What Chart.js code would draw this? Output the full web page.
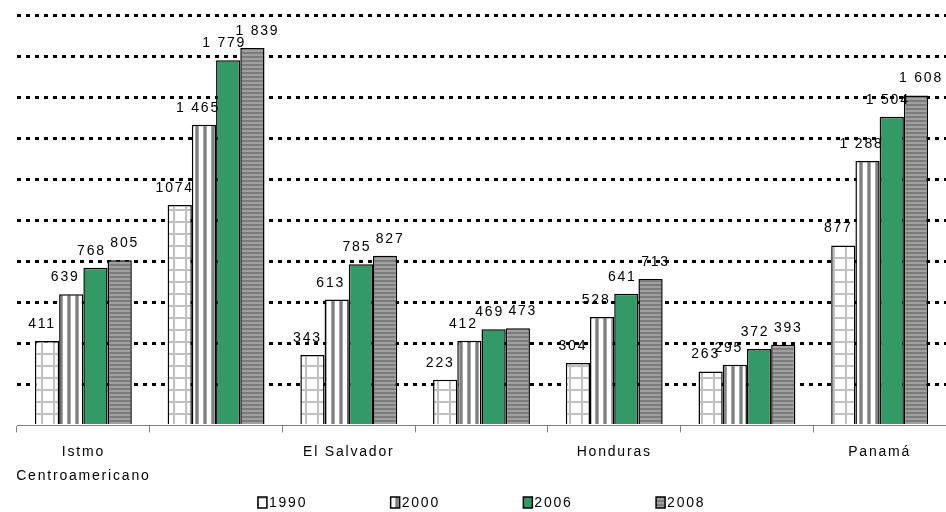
<!DOCTYPE html>
<html>
<head>
<meta charset="utf-8">
<script src="https://cdn.jsdelivr.net/npm/chart.js@4.4.1/dist/chart.umd.min.js"></script>
<style>
  html, body { margin: 0; padding: 0; background: #fff; }
  #wrap { width: 946px; height: 512px; }
</style>
</head>
<body>
<div id="wrap"><canvas id="grafico" width="946" height="512"></canvas></div>
<script>
// datos del grafico
var paises = ['Istmo Centroamericano', 'Costa Rica', 'El Salvador', 'Guatemala', 'Honduras', 'Nicaragua', 'Panamá'];
var anios = ['1990', '2000', '2006', '2008'];
var v1990 = [411, 1074, 343, 223, 304, 263, 877];
var v2000 = [639, 1465, 613, 412, 528, 295, 1288];
var v2006 = [768, 1779, 785, 469, 641, 372, 1504];
var v2008 = [805, 1839, 827, 473, 713, 393, 1608];
var yMax = 2000, yPaso = 200;

var FUENTE = '"Liberation Sans", Arial, sans-serif';

// tramas de las barras
function trama(w, h, dibujar){
    var c = document.createElement('canvas');
    c.width = w; c.height = h;
    var g = c.getContext('2d');
    dibujar(g);
    return document.getElementById('grafico').getContext('2d').createPattern(c, 'repeat');
}
var t1990 = trama(12, 12, function(g){   // cuadricula
    g.fillStyle = '#fff'; g.fillRect(0, 0, 12, 12);
    g.fillStyle = '#c0c0c0';
    g.fillRect(5, 0, 2, 12);
    g.fillRect(0, 5, 12, 2);
});
var t2000 = trama(8, 4, function(g){     // rayas verticales
    g.fillStyle = '#fff'; g.fillRect(0, 0, 8, 4);
    g.fillStyle = '#a6a6a6'; g.fillRect(3, 0, 1, 4);
    g.fillStyle = '#7f7f7f'; g.fillRect(4, 0, 2, 4);
    g.fillStyle = '#a6a6a6'; g.fillRect(6, 0, 1, 4);
});
var t2008 = trama(4, 4, function(g){     // rayas horizontales
    g.fillStyle = '#a0a0a0'; g.fillRect(0, 0, 4, 4);
    g.fillStyle = '#7c7c7c'; g.fillRect(0, 0, 4, 2);
});
var colores = [t1990, t2000, '#339966', t2008];
var series = [v1990, v2000, v2006, v2008];
var desplaz = [-5, -6, -4, 5]; // corrimiento de etiquetas como en el original

function fmt(v, ds){
    if(ds == 0) return String(v);  // la serie 1990 viene sin separador
    var s = String(v);
    return s.length > 3 ? s.slice(0, s.length-3) + ' ' + s.slice(-3) : s;
}

// espaciado de letras para imitar el texto ensanchado
var espaciado = {
    id: 'espaciado',
    beforeDraw: function(chart){ chart.ctx.letterSpacing = '1.8px'; }
};

// etiquetas encima de cada barra
var etiquetas = {
    id: 'etiquetas',
    afterDatasetsDraw: function(chart){
        var ctx = chart.ctx;
        ctx.save();
        ctx.letterSpacing = '1.8px';
        ctx.font = '14px ' + FUENTE;
        ctx.fillStyle = '#000';
        ctx.textAlign = 'center';
        ctx.textBaseline = 'alphabetic';
        chart.data.datasets.forEach(function(ds, d){
            chart.getDatasetMeta(d).data.forEach(function(bar, i){
                ctx.fillText(fmt(ds.data[i], d), bar.x + desplaz[d], bar.y - 13);
            });
        });
        ctx.restore();
    }
};

// leyenda abajo
var leyenda = {
    id: 'leyenda',
    afterDraw: function(chart){
        var ctx = chart.ctx;
        var paso = chart.chartArea.width / paises.length;
        var cx = chart.width / 2 + 7;
        var y = 503;
        ctx.save();
        ctx.letterSpacing = '1.8px';
        ctx.font = '14px ' + FUENTE;
        ctx.textBaseline = 'middle';
        ctx.textAlign = 'left';
        chart.data.datasets.forEach(function(ds, d){
            var x = cx + (d - 1.5) * paso - 23;
            ctx.fillStyle = ds.backgroundColor;
            ctx.fillRect(x, y - 6, 9, 11);
            ctx.lineWidth = 1.5;
            ctx.strokeStyle = '#000';
            ctx.strokeRect(x, y - 6, 9, 11);
            ctx.fillStyle = '#000';
            ctx.fillText(ds.label, x + 11, y);
        });
        ctx.restore();
    }
};

var datasets = [];
for(var d = 0; d < anios.length; d++){
    datasets.push({
        label: anios[d],
        data: series[d],
        backgroundColor: colores[d],
        borderColor: '#000',
        borderWidth: 1.5,
        categoryPercentage: 0.73,
        barPercentage: 1
    });
}

new Chart(document.getElementById('grafico'), {
    type: 'bar',
    data: {
        labels: paises.map(function(p, i){
            if(i % 2 == 1) return '';
            return p == 'Istmo Centroamericano' ? ['Istmo', 'Centroamericano'] : p;
        }),
        datasets: datasets
    },
    options: {
        responsive: false,
        animation: false,
        layout: { padding: { left: 17, right: 0, top: 15, bottom: 16 } },
        plugins: {
            legend: { display: false },
            tooltip: { enabled: false }
        },
        scales: {
            x: {
                border: { display: true, color: '#808080', width: 1 },
                grid: {
                    display: true,
                    drawOnChartArea: false,
                    drawTicks: true,
                    tickLength: 7,
                    color: '#808080',
                    lineWidth: 1
                },
                ticks: {
                    autoSkip: false,
                    maxRotation: 0,
                    padding: 8,
                    color: '#000',
                    font: { family: FUENTE, size: 14, lineHeight: 1.7 }
                }
            },
            y: {
                min: 0,
                max: yMax,
                border: { display: false, dash: [4, 5] },
                grid: {
                    drawTicks: false,
                    lineWidth: 3,
                    color: function(c){ return c.tick && c.tick.value == 0 ? 'rgba(0,0,0,0)' : '#000'; }
                },
                ticks: { display: false, stepSize: yPaso }
            }
        }
    },
    plugins: [espaciado, etiquetas, leyenda]
});
</script>
</body>
</html>
